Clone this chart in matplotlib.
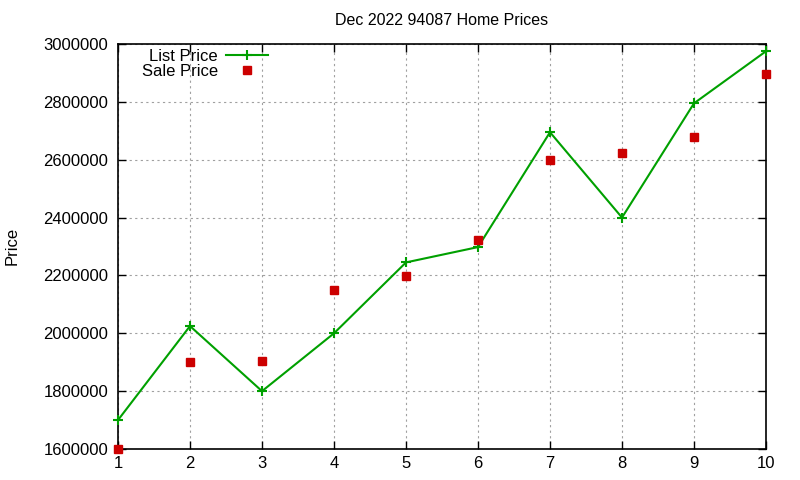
import matplotlib
matplotlib.use("Agg")
import matplotlib.pyplot as plt

plt.rcParams['font.family'] = ['Liberation Sans', 'DejaVu Sans']

# Data
months = [1, 2, 3, 4, 5, 6, 7, 8, 9, 10]
list_price = [1700000, 2025000, 1800000, 2000000, 2245000, 2298000, 2695000, 2400000, 2795000, 2975000]
sale_price = [1600000, 1902000, 1905000, 2150000, 2198000, 2323000, 2600000, 2623000, 2680000, 2898000]
yticks = [1600000, 1800000, 2000000, 2200000, 2400000, 2600000, 2800000, 3000000]

fig = plt.figure(figsize=(8, 4.8), dpi=100)
ax = fig.add_axes([118/800, 1 - 449/480, (766-118)/800, (449-44)/480])

ax.plot(months, list_price, color='#00a000', linewidth=1.5, marker='+',
        markersize=7, markeredgewidth=1.5, label='List Price', clip_on=False, zorder=3)
ax.plot(months, sale_price, linestyle='none', color='#cc0000', marker='s',
        markersize=6, label='Sale Price', clip_on=False, zorder=3)

ax.set_xlim(1, 10)
ax.set_ylim(1600000, 3000000)
ax.set_xticks(months)
ax.set_yticks(yticks)
ax.set_yticklabels([str(v) for v in yticks])
ax.tick_params(direction='in', top=True, right=True, labelsize=12, length=6, width=1)
ax.tick_params(axis='x', pad=5)
ax.tick_params(axis='y', pad=7)
ax.grid(True, linestyle=(0, (2, 3)), color='#a0a0a0', linewidth=0.8)
for s in ax.spines.values():
    s.set_linewidth(1.2)

ax.set_title('Dec 2022 94087 Home Prices', fontsize=11.5, pad=14)
fig.text(12/800, 1 - 246/480, 'Price', rotation=90, fontsize=12, ha='center', va='center')

ax.legend(loc='upper right', bbox_to_anchor=(0.231, 0.988), frameon=False, markerfirst=False,
          fontsize=12, handlelength=2.5, labelspacing=0.0, handletextpad=0.5,
          borderaxespad=0.0, borderpad=0.0)

fig.savefig('out.png', dpi=100)
